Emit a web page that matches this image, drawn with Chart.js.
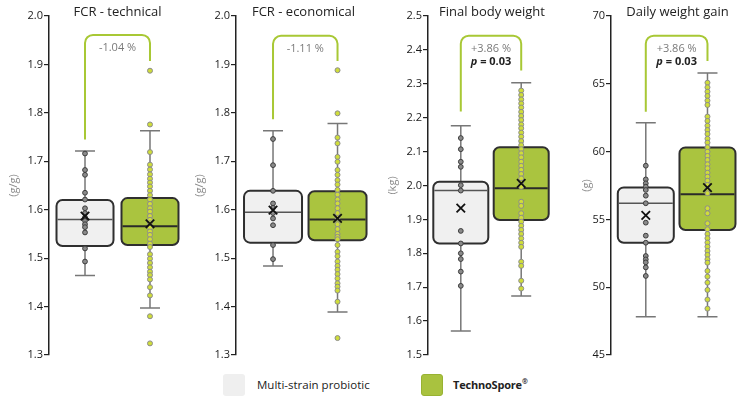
<!DOCTYPE html>
<html><head><meta charset="utf-8">
<script src="https://cdn.jsdelivr.net/npm/chart.js@4.4.1/dist/chart.umd.min.js"></script>
<style>
html,body{margin:0;padding:0;background:#fff;width:744px;height:398px;overflow:hidden;position:relative;font-family:'Open Sans',sans-serif}
canvas{position:absolute;top:0}
.sq{position:absolute;width:22px;height:22px;border-radius:3px;box-sizing:border-box}
.lt{position:absolute;font-size:11.5px;line-height:14px;color:#222;white-space:nowrap}
.lt sup{font-size:7px;vertical-align:5px;line-height:0}
</style></head><body>
<canvas id="c0"></canvas><canvas id="c1"></canvas><canvas id="c2"></canvas><canvas id="c3"></canvas>
<div class="sq" style="left:223px;top:374px;background:#efefef"></div>
<div class="lt" id="l0" style="left:257px;top:378px"></div>
<div class="sq" style="left:421px;top:374px;background:#a9c23f;border:1px solid #98b232"></div>
<div class="lt" id="l1" style="left:453px;top:378px;font-weight:bold;font-size:11px;letter-spacing:-0.2px"></div>
<script>
// ---------- DATA ----------
const panelTitles = ['FCR - technical', 'FCR - economical', 'Final body weight', 'Daily weight gain'];
const unitLabels = ['(g/g)', '(g/g)', '(kg)', '(g)'];
const axisMin = [1.3, 1.3, 1.5, 45];
const axisMax = [2.0, 2.0, 2.5, 70];
const axisStep = [0.1, 0.1, 0.1, 5];
const tickDecimals = [1, 1, 1, 0];
const seriesNames = ['Multi-strain probiotic', 'TechnoSpore®'];
// box stats: [whiskerLow, q1, median, q3, whiskerHigh, mean]
const probioticStats = [
  [1.464, 1.525, 1.580, 1.620, 1.721, 1.587],
  [1.484, 1.532, 1.595, 1.639, 1.763, 1.599],
  [1.571, 1.829, 1.985, 2.011, 2.176, 1.933],
  [47.83, 53.28, 56.19, 57.36, 62.13, 55.30]
];
const technoStats = [
  [1.397, 1.527, 1.566, 1.624, 1.763, 1.571],
  [1.389, 1.537, 1.580, 1.638, 1.778, 1.582],
  [1.674, 1.898, 1.992, 2.113, 2.303, 2.006],
  [47.83, 54.22, 56.85, 60.31, 65.80, 57.34]
];
const probioticPoints = [
  [1.716, 1.682, 1.672, 1.635, 1.621, 1.603, 1.593, 1.584, 1.577, 1.570, 1.564, 1.553, 1.520, 1.493],
  [1.746, 1.692, 1.639, 1.613, 1.604, 1.593, 1.582, 1.568, 1.527, 1.498],
  [2.140, 2.107, 2.070, 2.055, 2.001, 1.985, 1.866, 1.829, 1.800, 1.783, 1.746, 1.704],
  [58.96, 57.95, 57.66, 57.41, 57.17, 56.75, 56.19, 54.76, 53.80, 53.28, 52.30, 52.05, 51.83, 51.46, 50.83]
];
const technoPoints = [
  [1.887, 1.776, 1.719, 1.693, 1.683, 1.673, 1.664, 1.656, 1.648, 1.639, 1.630, 1.621, 1.612, 1.603, 1.596, 1.587, 1.579, 1.572, 1.563, 1.555, 1.548, 1.539, 1.530, 1.523, 1.508, 1.499, 1.490, 1.481, 1.472, 1.465, 1.456, 1.440, 1.423, 1.380, 1.324],
  [1.888, 1.799, 1.749, 1.737, 1.709, 1.699, 1.682, 1.672, 1.661, 1.652, 1.641, 1.631, 1.621, 1.613, 1.603, 1.593, 1.583, 1.570, 1.560, 1.550, 1.544, 1.539, 1.527, 1.513, 1.504, 1.493, 1.484, 1.476, 1.467, 1.458, 1.448, 1.441, 1.433, 1.410, 1.335],
  [2.280, 2.267, 2.254, 2.242, 2.230, 2.217, 2.205, 2.193, 2.180, 2.169, 2.156, 2.144, 2.131, 2.119, 2.107, 2.095, 2.083, 2.070, 2.058, 2.046, 2.034, 2.021, 2.008, 1.996, 1.952, 1.940, 1.918, 1.905, 1.893, 1.881, 1.869, 1.857, 1.844, 1.831, 1.819, 1.775, 1.763, 1.719, 1.696],
  [65.08, 64.74, 64.42, 64.10, 63.76, 63.44, 62.58, 62.26, 61.91, 61.59, 61.30, 60.95, 60.66, 60.32, 59.99, 59.68, 59.38, 59.06, 58.77, 58.44, 58.15, 57.85, 57.54, 57.22, 56.93, 55.82, 55.45, 54.71, 54.27, 53.92, 53.61, 53.29, 52.99, 52.67, 52.38, 52.06, 51.81, 51.20, 50.78, 50.34, 49.80, 49.09, 48.42]
];
const diffLabels = ['-1.04 %', '-1.11 %', '+3.86 %', '+3.86 %'];
const pValues = [null, null, '0.03', '0.03'];
// comparison bracket in axis units: [left end, top, right end]
const bracketLevels = [
  [1.745, 1.961, 1.907],
  [1.787, 1.959, 1.907],
  [2.218, 2.442, 2.339],
  [62.94, 68.55, 66.68]
];

// ---------- LAYOUT / STYLE ----------
const panelLayout = [
  {left: 0,   width: 186, axisX: 49, padL: 7,  xMin: 0.446, xMax: 2.554, bw: 57},
  {left: 186, width: 185, axisX: 50, padL: 7,  xMin: 0.426, xMax: 2.519, bw: 58},
  {left: 371, width: 185, axisX: 57, padL: 15, xMin: 0.457, xMax: 2.576, bw: 55},
  {left: 556, width: 188, axisX: 55, padL: 24, xMin: 0.436, xMax: 2.592, bw: 56}
];
const GREEN = '#aac43f';
const BRACKET = '#a8c835';

Chart.defaults.font.family = "'Open Sans', sans-serif";
document.getElementById('l0').textContent = seriesNames[0];
(function () {
  const el = document.getElementById('l1');
  const name = seriesNames[1];
  if (name.endsWith('®')) {
    el.textContent = name.slice(0, -1);
    const s = document.createElement('sup');
    s.textContent = '®';
    el.appendChild(s);
  } else el.textContent = name;
})();

function roundRectPath(ctx, x, y, w, h, r) {
  ctx.beginPath();
  ctx.moveTo(x + r, y);
  ctx.arcTo(x + w, y, x + w, y + h, r);
  ctx.arcTo(x + w, y + h, x, y + h, r);
  ctx.arcTo(x, y + h, x, y, r);
  ctx.arcTo(x, y, x + w, y, r);
  ctx.closePath();
}

const boxPlugin = {
  id: 'boxes',
  beforeDatasetsDraw(chart, args, opts) {
    const p = opts.panel;
    const {ctx} = chart;
    const x = chart.scales.x, y = chart.scales.y;
    const L = panelLayout[p];
    [probioticStats[p], technoStats[p]].forEach((s, i) => {
      const cx = x.getPixelForValue(i + 1);
      const [lo, q1, med, q3, hi] = s;
      const yLo = y.getPixelForValue(lo), yHi = y.getPixelForValue(hi);
      const yQ1 = y.getPixelForValue(q1), yQ3 = y.getPixelForValue(q3), yM = y.getPixelForValue(med);
      ctx.save();
      ctx.strokeStyle = '#777';
      ctx.lineWidth = 1.5;
      ctx.beginPath();
      ctx.moveTo(cx, yLo); ctx.lineTo(cx, yHi);
      ctx.moveTo(cx - 10, yLo); ctx.lineTo(cx + 10, yLo);
      ctx.moveTo(cx - 10, yHi); ctx.lineTo(cx + 10, yHi);
      ctx.stroke();
      roundRectPath(ctx, cx - L.bw / 2, yQ3, L.bw, yQ1 - yQ3, 6);
      ctx.fillStyle = i === 0 ? '#f0f0f0' : GREEN;
      ctx.fill();
      ctx.lineWidth = 2;
      ctx.strokeStyle = '#2f2f2f';
      ctx.stroke();
      ctx.beginPath();
      ctx.moveTo(cx - L.bw / 2 + 1, yM); ctx.lineTo(cx + L.bw / 2 - 1, yM);
      ctx.lineWidth = i === 0 ? 1.5 : 2;
      ctx.strokeStyle = i === 0 ? '#555' : '#2a2a2a';
      ctx.stroke();
      ctx.restore();
    });
  },
  afterDatasetsDraw(chart, args, opts) {
    const p = opts.panel;
    const {ctx, chartArea} = chart;
    const x = chart.scales.x, y = chart.scales.y;
    const [bs, bt, be] = bracketLevels[p];
    const x1 = x.getPixelForValue(1), x2 = x.getPixelForValue(2);
    const ys = y.getPixelForValue(bs), yt = y.getPixelForValue(bt), ye = y.getPixelForValue(be);
    const r = 8;
    ctx.save();
    // panel title, centred over the plot area
    ctx.textBaseline = 'middle';
    ctx.textAlign = 'center';
    ctx.fillStyle = '#222';
    ctx.font = "13px 'Open Sans', sans-serif";
    ctx.fillText(panelTitles[p], (chartArea.left + chartArea.right) / 2, 12.5);
    // bracket
    ctx.strokeStyle = BRACKET;
    ctx.lineWidth = 2;
    ctx.beginPath();
    ctx.moveTo(x1, ys);
    ctx.arcTo(x1, yt, x1 + r, yt, r);
    ctx.arcTo(x2, yt, x2, yt + r, r);
    ctx.lineTo(x2, ye);
    ctx.stroke();
    const mid = (x1 + x2) / 2;
    ctx.font = "11px 'Open Sans', sans-serif";
    ctx.fillStyle = '#7a7a7a';
    ctx.fillText(diffLabels[p], mid, yt + 13);
    if (pValues[p]) {
      const a = 'p', b = ' = ' + pValues[p];
      ctx.textAlign = 'left';
      ctx.fillStyle = '#222';
      ctx.font = "italic bold 11px 'Open Sans', sans-serif";
      const wa = ctx.measureText(a).width;
      ctx.font = "bold 11px 'Open Sans', sans-serif";
      const wb = ctx.measureText(b).width;
      const sx = mid - (wa + wb) / 2;
      ctx.font = "italic bold 11px 'Open Sans', sans-serif";
      ctx.fillText(a, sx, yt + 26);
      ctx.font = "bold 11px 'Open Sans', sans-serif";
      ctx.fillText(b, sx + wa, yt + 26);
    }
    ctx.restore();
  }
};

for (let p = 0; p < 4; p++) {
  const L = panelLayout[p];
  const cv = document.getElementById('c' + p);
  cv.width = L.width; cv.height = 370;
  cv.style.left = L.left + 'px';
  cv.style.width = L.width + 'px'; cv.style.height = '370px';
  const means = [{x: 1, y: probioticStats[p][5]}, {x: 2, y: technoStats[p][5]}];
  new Chart(cv, {
    type: 'scatter',
    data: {
      datasets: [
        {label: 'mean', data: means, pointStyle: 'crossRot', pointRadius: 6, borderColor: '#111', borderWidth: 1.8, backgroundColor: 'transparent'},
        {label: seriesNames[0], data: probioticPoints[p].map(v => ({x: 1, y: v})), pointRadius: 2.4, borderWidth: 1, backgroundColor: '#8a8a8a', borderColor: '#3c3c3c'},
        {label: seriesNames[1], data: technoPoints[p].map(v => ({x: 2, y: v})), pointRadius: 2.5, borderWidth: 1, backgroundColor: '#cfdd3a', borderColor: '#8c8c8c'}
      ]
    },
    options: {
      responsive: false,
      animation: false,
      events: [],
      layout: {autoPadding: false, padding: {left: L.padL, right: 0, top: 16, bottom: 15}},
      plugins: {
        legend: {display: false},
        tooltip: {enabled: false},
        title: {display: false},
        boxes: {panel: p}
      },
      scales: {
        x: {type: 'linear', display: false, min: L.xMin, max: L.xMax},
        y: {
          min: axisMin[p], max: axisMax[p],
          afterFit(scale) { scale.width = L.axisX - L.padL; },
          ticks: {stepSize: axisStep[p], color: '#1a1a1a', font: {size: 11}, padding: 1,
                  callback: v => Number(v).toFixed(tickDecimals[p])},
          grid: {drawOnChartArea: false, drawTicks: true, tickLength: 5, color: '#222', lineWidth: 1.2},
          border: {display: true, color: '#222', width: 1.5},
          title: {display: true, text: unitLabels[p], color: '#8c8c8c', font: {size: 11}, padding: {top: 0, bottom: 0}}
        }
      }
    },
    plugins: [boxPlugin]
  });
}
</script>
</body></html>
